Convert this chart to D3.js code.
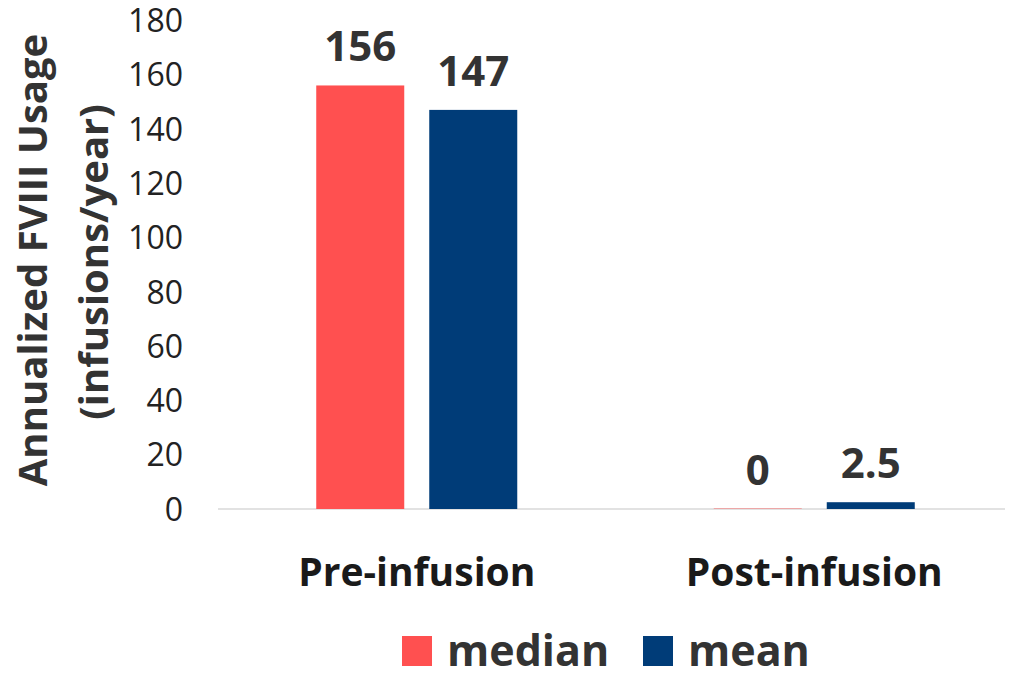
<!DOCTYPE html>
<html><head><meta charset="utf-8">
<script src="https://cdn.jsdelivr.net/npm/d3@7"></script>
<style>body{margin:0;background:#fff}svg{display:block}text{font-family:"Open Sans",sans-serif}</style>
</head><body><svg id="c" width="1013" height="678"></svg>
<script>
const categories = ["Pre-infusion", "Post-infusion"];
const seriesNames = ["median", "mean"];
const medianValues = [156, 0];
const meanValues = [147, 2.5];
const valueLabels = [["156", "0"], ["147", "2.5"]];
const yTicks = [0, 20, 40, 60, 80, 100, 120, 140, 160, 180];
const colors = ["#FF5050", "#003C78"];

const svg = d3.select("#c");
const y = d3.scaleLinear().domain([0, 180]).range([509, 20.3]);
const x0 = d3.scaleBand().domain(categories).range([218, 1013]).paddingInner(0.4943).paddingOuter(0.4943/2);
const x1 = d3.scaleBand().domain(seriesNames).range([0, x0.bandwidth()]).paddingInner(0.2212).paddingOuter(0);

// baseline
svg.append("line").attr("x1", 218).attr("x2", 1005).attr("y1", y(0)).attr("y2", y(0))
  .attr("stroke", "#d9d9d9").attr("stroke-width", 1.5);

// y axis
const yAxis = d3.axisLeft(y).tickValues(yTicks).tickSize(0).tickPadding(0);
const gy = svg.append("g").attr("transform", "translate(183,0)").call(yAxis);
gy.select(".domain").remove();
gy.selectAll("text").attr("font-size", 32).attr("fill", "#222").attr("font-family", "Open Sans").attr("dy", "0.35em");

// y title
const yt = svg.append("text").attr("transform", "translate(0,262) rotate(-90)")
  .attr("text-anchor", "middle").attr("font-weight", "bold").attr("font-size", 40).attr("fill", "#333");
yt.append("tspan").attr("x", 2).attr("y", 47).text("Annualized FVIII Usage");
yt.append("tspan").attr("x", 0).attr("y", 108).text("(infusions/year)");

const seriesVals = [medianValues, meanValues];
const groups = svg.append("g").selectAll("g").data(categories).join("g")
  .attr("transform", d => `translate(${x0(d)},0)`);

seriesNames.forEach((s, si) => {
  groups.append("rect")
    .attr("x", x1(s)).attr("width", x1.bandwidth())
    .attr("y", (d, i) => Math.min(y(seriesVals[si][i]), y(0) - 1))
    .attr("height", (d, i) => Math.max(1, y(0) - y(seriesVals[si][i])))
    .attr("fill", colors[si])
    .attr("fill-opacity", (d, i) => seriesVals[si][i] === 0 ? 0.4 : 1);
  groups.append("text")
    .attr("x", x1(s) + x1.bandwidth() / 2)
    .attr("y", (d, i) => y(seriesVals[si][i]) - 24)
    .attr("text-anchor", "middle").attr("font-weight", "bold").attr("font-size", 42).attr("fill", "#333")
    .text((d, i) => valueLabels[si][i]);
});

// x axis labels
const xAxis = d3.axisBottom(x0).tickSize(0).tickPadding(0);
const gx = svg.append("g").attr("transform", "translate(0,572)").call(xAxis);
gx.select(".domain").remove();
gx.selectAll("text").attr("font-size", 39).attr("font-weight", "bold").attr("fill", "#1a1a1a")
  .attr("font-family", "Open Sans").attr("dy", "0.35em");

// legend
const legendX = [402, 643];
const lg = svg.append("g").selectAll("g").data(seriesNames).join("g")
  .attr("transform", (d, i) => `translate(${legendX[i]},636)`);
lg.append("rect").attr("width", 30).attr("height", 30).attr("fill", (d, i) => colors[i]);
lg.append("text").attr("x", 45).attr("y", 15).attr("dy", "0.35em")
  .attr("font-size", 43).attr("font-weight", "bold").attr("fill", "#333").text(d => d);
</script></body></html>
